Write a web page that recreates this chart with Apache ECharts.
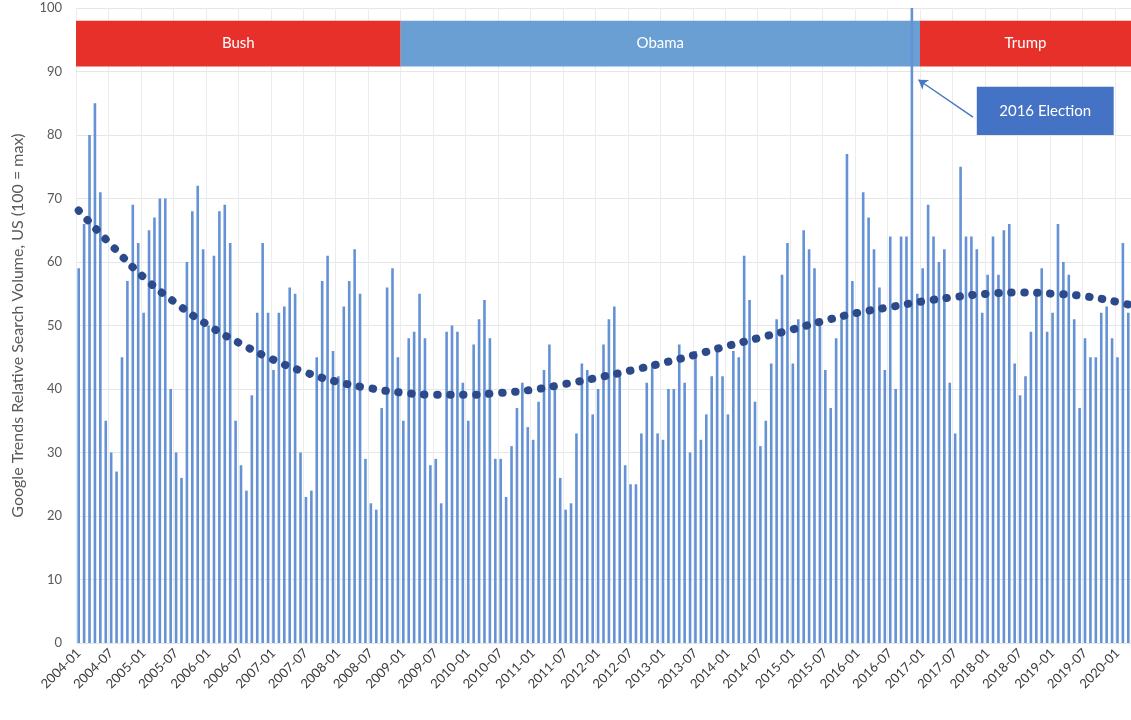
<!DOCTYPE html>
<html>
<head>
<meta charset="utf-8">
<script src="https://cdn.jsdelivr.net/npm/echarts@6/dist/echarts.min.js"></script>
<style>
html, body { margin: 0; padding: 0; background: #fff; }
#chart { width: 1131px; height: 720px; }
</style>
</head>
<body>
<div id="chart"></div>
<script>
// monthly search volume, one array per year
const v2004 = [59, 66, 80, 85, 71, 35, 30, 27, 45, 57, 69, 63];
const v2005 = [52, 65, 67, 70, 70, 40, 30, 26, 60, 68, 72, 62];
const v2006 = [50, 61, 68, 69, 63, 35, 28, 24, 39, 52, 63, 52];
const v2007 = [43, 52, 53, 56, 55, 30, 23, 24, 45, 57, 61, 46];
const v2008 = [42, 53, 57, 62, 55, 29, 22, 21, 37, 56, 59, 45];
const v2009 = [35, 48, 49, 55, 48, 28, 29, 22, 49, 50, 49, 41];
const v2010 = [35, 47, 51, 54, 48, 29, 29, 23, 31, 37, 41, 34];
const v2011 = [32, 38, 43, 47, 41, 26, 21, 22, 33, 44, 43, 36];
const v2012 = [40, 47, 51, 53, 42, 28, 25, 25, 33, 41, 44, 33];
const v2013 = [32, 40, 40, 47, 41, 30, 46, 32, 36, 42, 46, 42];
const v2014 = [36, 46, 45, 61, 54, 38, 31, 35, 44, 51, 58, 63];
const v2015 = [44, 51, 65, 62, 59, 51, 43, 37, 48, 51, 77, 57];
const v2016 = [52, 71, 67, 62, 56, 43, 64, 40, 64, 64, 100, 55];
const v2017 = [59, 69, 64, 60, 62, 41, 33, 75, 64, 64, 62, 52];
const v2018 = [58, 64, 58, 65, 66, 44, 39, 42, 49, 55, 59, 49];
const v2019 = [52, 66, 60, 58, 51, 37, 48, 45, 45, 52, 53, 48];
const v2020 = [45, 63, 52];

// trend line
const trendMonths = ['2004-01', '2004-07', '2005-01', '2005-07', '2006-01', '2006-07', '2007-01', '2007-07',
  '2008-01', '2008-07', '2009-01', '2009-07', '2010-01', '2010-07', '2011-01', '2011-07', '2012-01',
  '2012-07', '2013-01', '2013-07', '2014-01', '2014-07', '2015-01', '2015-07', '2016-01', '2016-07',
  '2017-01', '2017-07', '2018-01', '2018-07', '2019-01', '2019-07', '2020-01', '2020-03'];
const trendValues = [68.1, 62.7, 57.6, 53.5, 50.0, 47.1, 44.6, 42.6, 41.1, 40.1, 39.4, 39.1, 39.1, 39.4,
  39.9, 40.8, 41.8, 42.9, 44.1, 45.4, 46.8, 48.1, 49.4, 50.8, 52.0, 52.9, 53.8, 54.5, 55.0, 55.2, 55.0,
  54.6, 53.7, 53.3];

// presidencies (first month of each term)
const presidents = ['Bush', 'Obama', 'Trump'];
const termStart = ['2004-01', '2009-01', '2017-01'];
const termColors = ['#e8302a', '#6a9fd4', '#e8302a'];

const volume = [].concat(v2004, v2005, v2006, v2007, v2008, v2009, v2010, v2011, v2012,
  v2013, v2014, v2015, v2016, v2017, v2018, v2019, v2020);
const months = [];
for (let y = 2004; months.length < volume.length; y++) {
  for (let m = 1; m <= 12 && months.length < volume.length; m++) {
    months.push(y + '-' + String(m).padStart(2, '0'));
  }
}

const bandTop = 98, bandBottom = 90.8;
const bands = presidents.map((p, k) => {
  const from = months.indexOf(termStart[k]) - 0.5;
  const to = k < presidents.length - 1 ? months.indexOf(termStart[k + 1]) - 0.5 : months.length - 0.5;
  return [
    { name: p, xAxis: from, yAxis: bandBottom, itemStyle: { color: termColors[k], opacity: 1 } },
    { xAxis: to, yAxis: bandTop }
  ];
});

const electionIdx = months.indexOf('2016-11');
bands.push([
  { name: '2016 Election', xAxis: electionIdx + 12, yAxis: 80,
    itemStyle: { color: '#4472c4', opacity: 1 }, label: { fontSize: 15 } },
  { xAxis: electionIdx + 37.3, yAxis: 87.6 }
]);

const chart = echarts.init(document.getElementById('chart'));
chart.setOption({
  animation: false,
  textStyle: { fontFamily: 'Lato' },
  grid: { left: 76, right: 0, top: 8, bottom: 77 },
  xAxis: [{
    type: 'category',
    data: months,
    axisLine: { show: false },
    axisTick: { show: false },
    axisLabel: { interval: 5, rotate: 45, color: '#3a3a3a', fontSize: 13, margin: 8 },
    splitLine: { show: true, interval: 5, lineStyle: { color: '#ececec' } }
  }, {
    type: 'value', show: false, min: -0.5, max: months.length - 0.5
  }],
  yAxis: {
    type: 'value', min: 0, max: 100, interval: 10,
    name: 'Google Trends Relative Search Volume, US (100 = max)',
    nameLocation: 'middle',
    nameGap: 50,
    nameTextStyle: { color: '#595959', fontSize: 16 },
    axisLine: { show: false },
    axisTick: { show: false },
    axisLabel: { color: '#595959', fontSize: 13, margin: 14 },
    splitLine: { lineStyle: { color: '#e6e6e6' } }
  },
  series: [
    {
      type: 'scatter',
      xAxisIndex: 1,
      data: [],
      z: 1,
      silent: true,
      markArea: {
        silent: true,
        label: { show: true, position: 'inside', color: '#fff', fontSize: 15 },
        data: bands
      },
      markLine: {
        silent: true,
        symbol: ['none', 'arrow'],
        symbolSize: 9,
        label: { show: false },
        lineStyle: { color: '#4a78c2', width: 1.5, type: 'solid' },
        data: [[{ coord: [electionIdx + 11.3, 82.8] }, { coord: [electionIdx + 1.2, 88.7] }]]
      }
    },
    {
      type: 'bar',
      data: volume,
      barWidth: 2.6,
      z: 3,
      itemStyle: { color: '#6592d4' }
    },
    {
      type: 'line',
      data: trendMonths.map((m, k) => [m, trendValues[k]]),
      smooth: true,
      symbol: 'none',
      z: 4,
      lineStyle: { color: '#2c4a8a', width: 8, type: [0.5, 12.5], cap: 'round' }
    }
  ]
});
</script>
</body>
</html>
